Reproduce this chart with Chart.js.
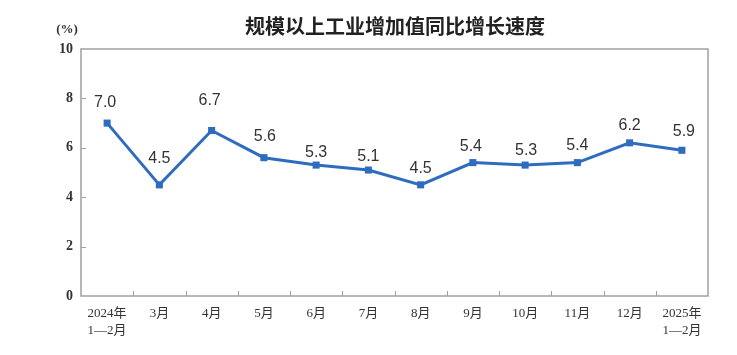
<!DOCTYPE html>
<html>
<head>
<meta charset="utf-8">
<script src="https://cdn.jsdelivr.net/npm/chart.js@4.4.1/dist/chart.umd.min.js"></script>
<style>
html,body{margin:0;padding:0;background:#fff;}
#wrap{position:relative;width:737px;height:355px;}
</style>
</head>
<body>
<div id="wrap"><canvas id="c" width="737" height="355"></canvas></div>
<script>
const categories = [["2024年","1—2月"],"3月","4月","5月","6月","7月","8月","9月","10月","11月","12月",["2025年","1—2月"]];
const growthValues = [7.0, 4.5, 6.7, 5.6, 5.3, 5.1, 4.5, 5.4, 5.3, 5.4, 6.2, 5.9];
const yTickValues = [0, 2, 4, 6, 8, 10];
const titleText = "规模以上工业增加值同比增长速度";
const unitText = "(%)";

// label placement (pixel offsets of each value label from its point) — style only
const labelDy = [-21, -26, -30, -21, -12, -13, -16, -16, -14, -17, -17, -19];
const labelDx = [-2, 0, -2, 1, 0, 0, 0, -2, 1, 0, 0, 2];

const lineColor = "#2e6cbf";
const axisColor = "#a0a0a0";
const serif = "'Liberation Serif','Noto Sans CJK SC',serif";

const decor = {
  id: "decor",
  beforeDatasetsDraw(chart) {
    const ctx = chart.ctx, a = chart.chartArea;
    const xs = chart.scales.x, ys = chart.scales.y;
    ctx.save();
    ctx.strokeStyle = axisColor;
    ctx.lineWidth = 1.5;
    ctx.strokeRect(a.left, a.top, a.right - a.left, a.bottom - a.top);
    ctx.lineWidth = 1;
    ctx.beginPath();
    for (let i = 1; i < categories.length; i++) {
      const x = Math.round((xs.getPixelForValue(i - 1) + xs.getPixelForValue(i)) / 2) + 0.5;
      ctx.moveTo(x, a.bottom);
      ctx.lineTo(x, a.bottom - 5);
    }
    yTickValues.forEach(v => {
      if (v === 0 || v === 10) return;
      const y = Math.round(ys.getPixelForValue(v)) + 0.5;
      ctx.moveTo(a.left, y);
      ctx.lineTo(a.left + 5, y);
    });
    ctx.stroke();
    ctx.restore();
  },
  afterDraw(chart) {
    const ctx = chart.ctx;
    const meta = chart.getDatasetMeta(0);
    ctx.save();
    ctx.fillStyle = "#333";
    ctx.font = "16px 'Liberation Sans', Arial, sans-serif";
    ctx.textAlign = "center";
    ctx.textBaseline = "middle";
    meta.data.forEach((pt, i) => {
      ctx.fillText(growthValues[i].toFixed(1), pt.x + labelDx[i], pt.y + labelDy[i]);
    });
    ctx.fillStyle = "#222";
    ctx.font = "bold 20px 'Noto Sans CJK SC', sans-serif";
    ctx.fillText(titleText, 395, 26);
    ctx.fillStyle = "#333";
    ctx.font = "bold 13px " + serif;
    ctx.fillText(unitText, 67, 30);
    ctx.restore();
  }
};

new Chart(document.getElementById("c"), {
  type: "line",
  data: {
    labels: categories,
    datasets: [{
      data: growthValues,
      borderColor: lineColor,
      backgroundColor: lineColor,
      borderWidth: 3,
      pointStyle: "rect",
      pointRadius: 5,
      pointBorderWidth: 0,
      tension: 0
    }]
  },
  options: {
    responsive: false,
    animation: false,
    layout: { padding: { top: 49, right: 29, left: 0, bottom: 0 } },
    plugins: { legend: { display: false }, tooltip: { enabled: false } },
    scales: {
      x: {
        offset: true,
        grid: { display: false, offset: true, drawTicks: false },
        border: { display: false },
        ticks: { color: "#333", font: { family: serif, size: 13, lineHeight: 1.3 }, padding: 9, maxRotation: 0, autoSkip: false },
        afterFit(s) { s.height = 59; }
      },
      y: {
        min: 0, max: 10,
        afterBuildTicks(s) { s.ticks = yTickValues.map(v => ({ value: v })); },
        grid: { display: false, drawTicks: false },
        border: { display: false },
        ticks: { color: "#333", font: { family: serif, size: 14, weight: "bold" }, padding: 8 },
        afterFit(s) { s.width = 81; }
      }
    }
  },
  plugins: [decor]
});
</script>
</body>
</html>
